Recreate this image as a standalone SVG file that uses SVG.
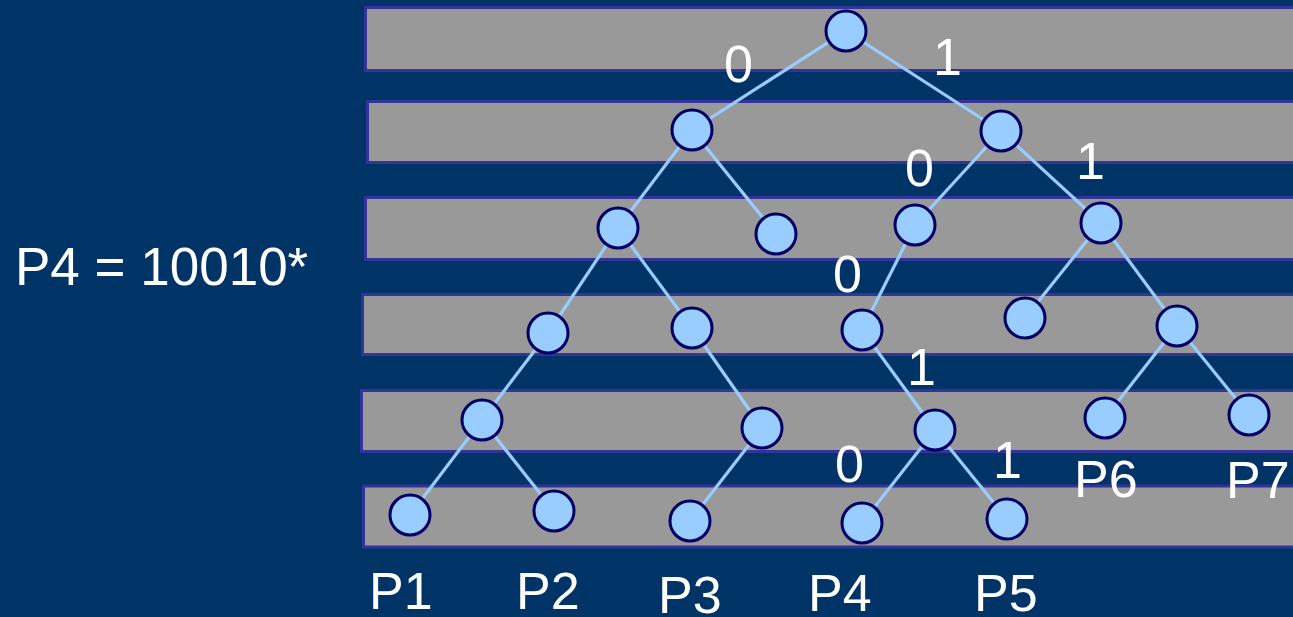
<svg xmlns="http://www.w3.org/2000/svg" width="1293" height="617" viewBox="0 0 1293 617">
<style>
.bar{fill:#999999;stroke:#333399;stroke-width:3}
.n{fill:#99CCFF;stroke:#000066;stroke-width:3}
.e{stroke:#99CCFF;stroke-width:3.2;fill:none}
text{font-family:"Liberation Sans",Arial,sans-serif;font-size:52px;fill:#FFFFFF}
</style>
<rect width="1293" height="617" fill="#003366"/>
<g id="bars">
<rect class="bar" x="365.5" y="7.5" width="1000" height="63"/>
<rect class="bar" x="367.5" y="101.5" width="1000" height="61"/>
<rect class="bar" x="365.5" y="197.5" width="1000" height="62"/>
<rect class="bar" x="362.5" y="294.5" width="1000" height="60"/>
<rect class="bar" x="361.5" y="390.5" width="1000" height="61"/>
<rect class="bar" x="363.5" y="486" width="1000" height="61"/>
</g>
<g id="connectors">
<line class="e" x1="846" y1="31" x2="692" y2="130"/>
<line class="e" x1="846" y1="31" x2="1001" y2="131"/>
<line class="e" x1="692" y1="130" x2="618" y2="228"/>
<line class="e" x1="692" y1="130" x2="776" y2="234"/>
<line class="e" x1="1001" y1="131" x2="915" y2="225"/>
<line class="e" x1="1001" y1="131" x2="1101" y2="223"/>
<line class="e" x1="618" y1="228" x2="548" y2="333"/>
<line class="e" x1="618" y1="228" x2="692" y2="328"/>
<line class="e" x1="915" y1="225" x2="862" y2="330"/>
<line class="e" x1="1101" y1="223" x2="1025" y2="318"/>
<line class="e" x1="1101" y1="223" x2="1177" y2="326"/>
<line class="e" x1="548" y1="333" x2="482" y2="420"/>
<line class="e" x1="692" y1="328" x2="762" y2="428"/>
<line class="e" x1="862" y1="330" x2="935" y2="430"/>
<line class="e" x1="1177" y1="326" x2="1105" y2="418"/>
<line class="e" x1="1177" y1="326" x2="1249" y2="415"/>
<line class="e" x1="482" y1="420" x2="410" y2="515"/>
<line class="e" x1="482" y1="420" x2="554" y2="511"/>
<line class="e" x1="762" y1="428" x2="690" y2="521"/>
<line class="e" x1="935" y1="430" x2="862" y2="523"/>
<line class="e" x1="935" y1="430" x2="1007" y2="519"/>
</g>
<g id="n-root"><circle class="n" cx="846" cy="31" r="20"/></g>
<g id="n-0"><circle class="n" cx="692" cy="130" r="20"/></g>
<g id="n-1"><circle class="n" cx="1001" cy="131" r="20"/></g>
<g id="n-00"><circle class="n" cx="618" cy="228" r="20"/></g>
<g id="n-01"><circle class="n" cx="776" cy="234" r="20"/></g>
<g id="n-10"><circle class="n" cx="915" cy="225" r="20"/></g>
<g id="n-11"><circle class="n" cx="1101" cy="223" r="20"/></g>
<g id="n-000"><circle class="n" cx="548" cy="333" r="20"/></g>
<g id="n-001"><circle class="n" cx="692" cy="328" r="20"/></g>
<g id="n-100"><circle class="n" cx="862" cy="330" r="20"/></g>
<g id="n-110"><circle class="n" cx="1025" cy="318" r="20"/></g>
<g id="n-111"><circle class="n" cx="1177" cy="326" r="20"/></g>
<g id="n-0000"><circle class="n" cx="482" cy="420" r="20"/></g>
<g id="n-0011"><circle class="n" cx="762" cy="428" r="20"/></g>
<g id="n-1001"><circle class="n" cx="935" cy="430" r="20"/></g>
<g id="n-P6"><circle class="n" cx="1105" cy="418" r="20"/></g>
<g id="n-P7"><circle class="n" cx="1249" cy="415" r="20"/></g>
<g id="n-P1"><circle class="n" cx="410" cy="515" r="20"/></g>
<g id="n-P2"><circle class="n" cx="554" cy="511" r="20"/></g>
<g id="n-P3"><circle class="n" cx="690" cy="521" r="20"/></g>
<g id="n-P4"><circle class="n" cx="862" cy="523" r="20"/></g>
<g id="n-P5"><circle class="n" cx="1007" cy="519" r="20"/></g>
<g id="edge-labels">
<text x="724" y="82">0</text>
<text x="933" y="75">1</text>
<text x="905" y="186">0</text>
<text x="1076" y="179">1</text>
<text x="833" y="292">0</text>
<text x="907" y="385">1</text>
<text x="835" y="482">0</text>
<text x="993" y="478">1</text>
</g>
<g id="leaf-labels">
<text x="369" y="609">P1</text>
<text x="516" y="609">P2</text>
<text x="658" y="613">P3</text>
<text x="808" y="611">P4</text>
<text x="974" y="611">P5</text>
<text x="1074" y="497">P6</text>
<text x="1226" y="498">P7</text>
</g>
<g id="title"><text x="15" y="285" style="font-size:53px">P4 = 10010*</text></g>
</svg>
